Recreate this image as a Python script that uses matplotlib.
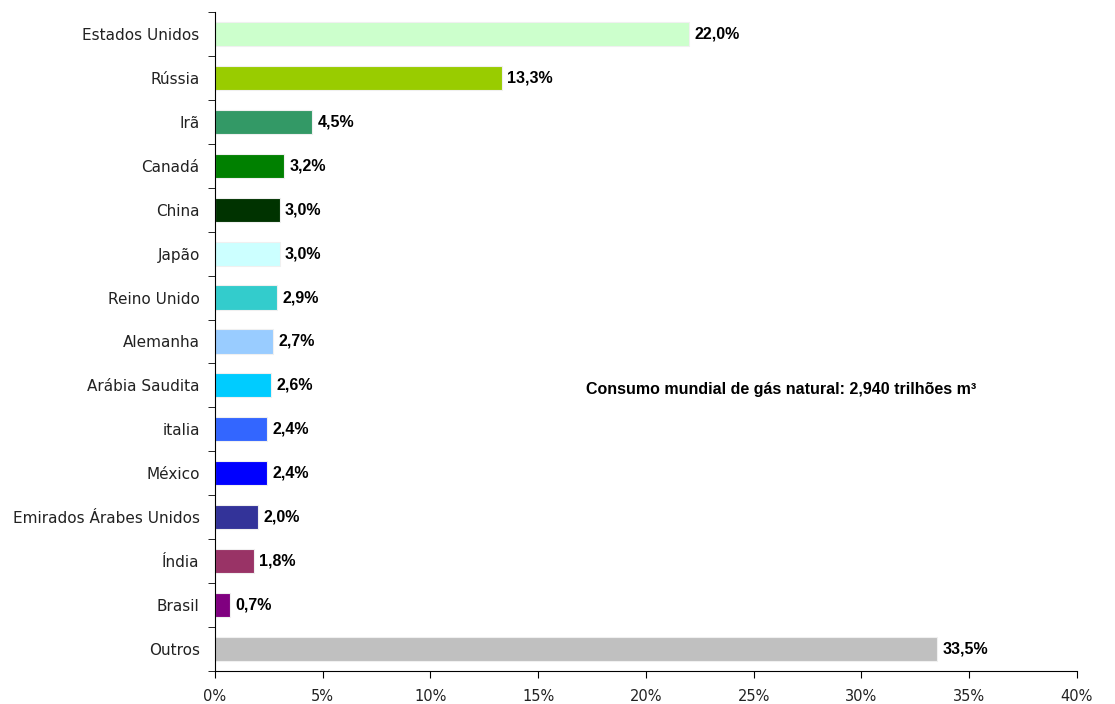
import matplotlib.pyplot as plt

# Natural gas consumption share by country
paises = ['Estados Unidos', 'Rússia', 'Irã', 'Canadá', 'China', 'Japão',
          'Reino Unido', 'Alemanha', 'Arábia Saudita', 'italia', 'México',
          'Emirados Árabes Unidos', 'Índia', 'Brasil', 'Outros']
valores = [22.0, 13.3, 4.5, 3.2, 3.0, 3.0, 2.9, 2.7, 2.6, 2.4, 2.4, 2.0, 1.8, 0.7, 33.5]
cores = ['#CCFFCC', '#99CC00', '#339966', '#008000', '#003300', '#CCFFFF',
         '#33CCCC', '#99CCFF', '#00CCFF', '#3366FF', '#0000FF', '#333399',
         '#993366', '#800080', '#C0C0C0']
xticks = [0, 5, 10, 15, 20, 25, 30, 35, 40]

plt.rcParams['font.family'] = ['Liberation Sans', 'DejaVu Sans']
rotulos = ['DejaVu Sans']

fig = plt.figure(figsize=(11.15, 7.04), dpi=100)
ax = fig.add_axes([0.1928, 0.0469, 0.7731, 0.9361])

pos = list(range(len(paises)))
ax.barh(pos, valores, height=0.55, color=cores, edgecolor='#F0F0F0', linewidth=0.8)

for y, v in zip(pos, valores):
    ax.text(v + 0.25, y, ('%.1f' % v).replace('.', ',') + '%',
            va='center', ha='left', fontsize=11.5, fontweight='bold')

ax.text(17.2, 8.1, 'Consumo mundial de gás natural: 2,940 trilhões m³',
        va='center', ha='left', fontsize=11.5, fontweight='bold')

ax.set_xlim(0, 40)
ax.set_ylim(len(paises) - 0.5, -0.5)
ax.set_xticks(xticks)
ax.set_xticklabels(['%d%%' % t for t in xticks], fontsize=10.5, family=rotulos,
                   color='#222222')

# category labels centred on bars, tick marks between them
ax.set_yticks(pos)
ax.set_yticklabels(paises, fontsize=11, family=rotulos, color='#222222')
ax.set_yticks([p - 0.5 for p in range(len(paises) + 1)], minor=True)
ax.tick_params(axis='y', which='major', length=0, pad=11)
ax.tick_params(axis='y', which='minor', length=5, direction='out')
ax.tick_params(axis='x', length=5, direction='out', pad=8)

for s in ['top', 'right']:
    ax.spines[s].set_visible(False)
ax.spines['left'].set_color('black')
ax.spines['bottom'].set_color('black')

fig.savefig('out.png', dpi=100)
